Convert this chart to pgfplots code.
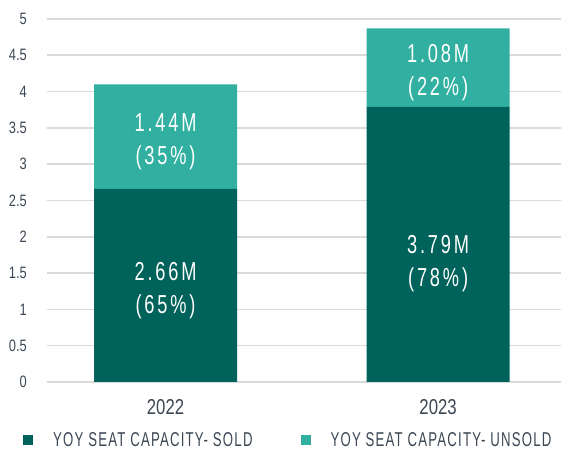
\documentclass[border=0pt]{standalone}
\usepackage{pgfplots}
\pgfplotsset{compat=1.18}
\usepackage{pgfplotstable}
\usepackage{fontspec}
\setmainfont{Liberation Sans}[FakeStretch=0.78]
\newfontfamily\barfont{Liberation Sans}[FakeStretch=0.7, LetterSpace=11]
\newfontfamily\legfont{Liberation Sans}[FakeStretch=0.66, LetterSpace=6]
\definecolor{darkteal}{HTML}{00635B}
\definecolor{lightteal}{HTML}{31B0A1}
\definecolor{txt}{HTML}{3B4754}
\definecolor{gridc}{HTML}{DADADA}
\pgfplotstableread{
x sold unsold soldpct unsoldpct
0 2.66 1.44 65 35
1 3.79 1.08 78 22
}\datatable
\begin{document}
\begin{tikzpicture}
\useasboundingbox (-47pt,-72pt) rectangle (514pt,382pt);
\begin{axis}[
  at={(0pt,0pt)}, anchor=south west,
  scale only axis, width=514pt, height=363pt,
  ybar stacked, bar width=143pt,
  xmin=-0.435, xmax=1.451, ymin=0, ymax=5,
  axis line style={draw=none},
  major tick length=0pt,
  xtick={0,1}, xticklabels={2022,2023},
  ytick={0,0.5,1,1.5,2,2.5,3,3.5,4,4.5,5},
  yticklabels={0,0.5,1,1.5,2,2.5,3,3.5,4,4.5,5},
  ymajorgrids, grid style={gridc, line width=1.6pt},
  yticklabel style={font=\fontsize{16.5}{18}\selectfont, text=txt, inner sep=0pt, anchor=east, xshift=-20pt},
  xticklabel style={font=\fontsize{21.5}{24}\selectfont, text=txt, inner sep=0pt, anchor=north, yshift=-17pt},
  legend style={draw=none, fill=none, legend columns=2, at={(0,0)}, anchor=west, xshift=-27pt, yshift=-58pt,
    font=\legfont\fontsize{20}{22}\selectfont, text=txt,
    /tikz/every odd column/.append style={column sep=18pt},
    /tikz/every even column/.append style={column sep=46pt}},
  legend cell align=left,
  legend image code/.code={\fill[#1] (0pt,-5pt) rectangle (10pt,5pt);},
  point meta=explicit,
  visualization depends on=rawy \as \rawy,
  visualization depends on=rawx \as \rawx,
  nodes near coords={\barfont\fontsize{26}{33}\selectfont\pgfmathprintnumber[fixed,fixed zerofill,precision=2,assume math mode=true]{\rawy}M\\(\pgfmathprintnumber[fixed,precision=0,assume math mode=true]{\pgfplotspointmeta}\%)},
  every node near coord/.append style={anchor=center, align=center, text=white,
    font=\barfont\fontsize{26}{33}\selectfont, yshift=-5pt},
]
\addplot[fill=darkteal, draw=none,
  every node near coord/.append style={yshift=-14pt*\rawx}]
  table[x=x, y=sold, meta=soldpct] \datatable;
\addlegendentry{YOY SEAT CAPACITY- SOLD}
\addplot[fill=lightteal, draw=none]
  table[x=x, y=unsold, meta=unsoldpct] \datatable;
\addlegendentry{YOY SEAT CAPACITY- UNSOLD}
\end{axis}
\end{tikzpicture}
\end{document}
